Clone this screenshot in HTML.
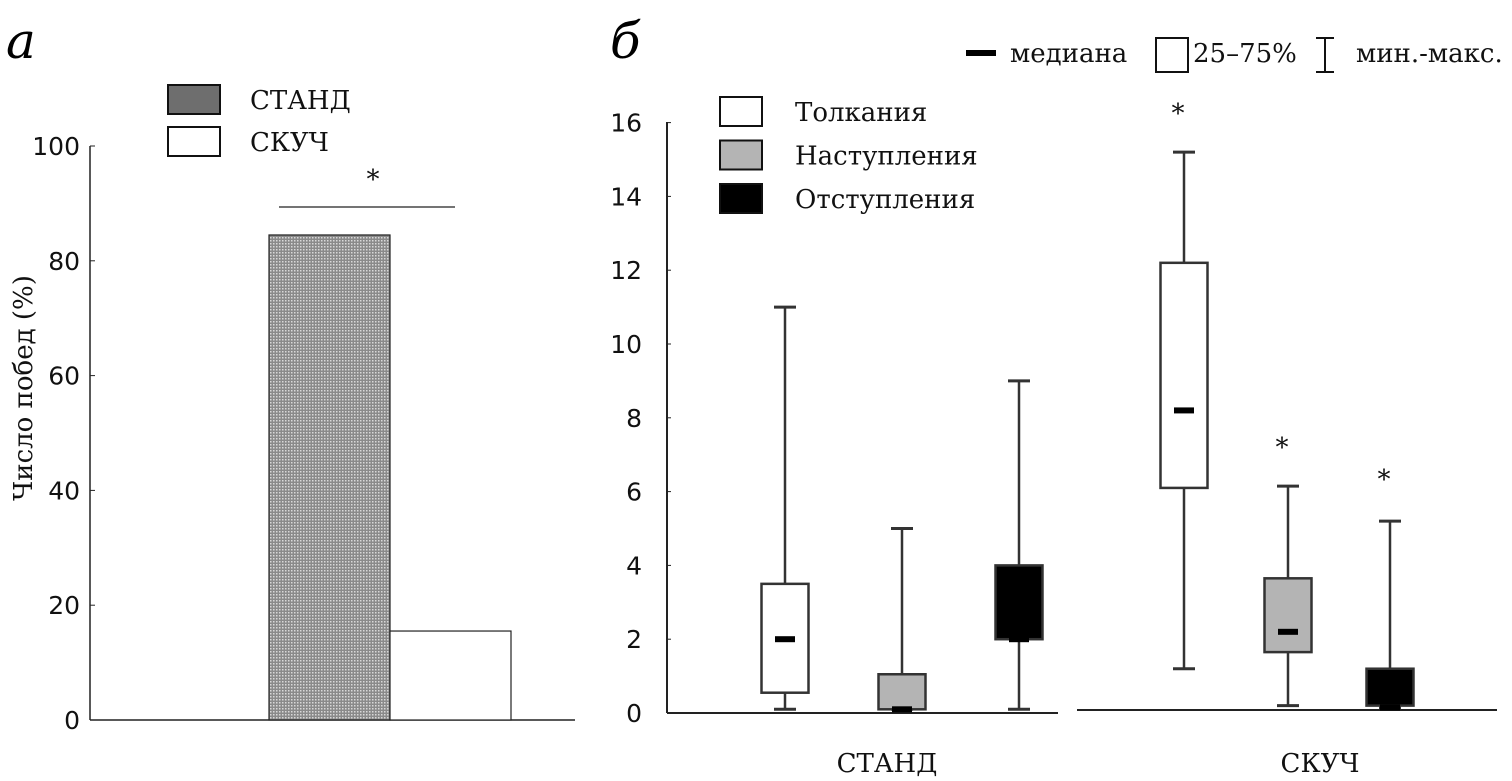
<!DOCTYPE html>
<html><head><meta charset="utf-8"><style>
body{margin:0;background:#fff}
svg{display:block}
.t{font-family:"DejaVu Sans","Liberation Sans",sans-serif;font-size:25px;fill:#111}
.s{font-family:"DejaVu Serif","Liberation Serif",serif;font-size:26px;fill:#111}
</style></head><body>
<svg id="c" width="1512" height="781" xmlns="http://www.w3.org/2000/svg">
<defs><pattern id="dots" width="3" height="3" patternUnits="userSpaceOnUse"><rect width="3" height="3" fill="#8a8a8a"/><rect width="1.5" height="1.5" fill="#d8d8d8"/></pattern></defs>
<text x="6" y="58" font-family="DejaVu Serif,serif" font-style="italic" font-size="50">а</text>
<text x="610" y="58" font-family="DejaVu Serif,serif" font-style="italic" font-size="50">б</text>
<g id="a"></g>
<g id="b"></g>
</svg>
<script>
const barCats=["СТАНД","СКУЧ"];
const barVals=[84.5,15.5];
const barTicks=[0,20,40,60,80,100];
const boxNames=["Толкания","Наступления","Отступления"];
const boxGroups=["СТАНД","СКУЧ"];
const boxMin=[0.1,0.1,0.1,1.2,0.2,0.15];
const boxQ1=[0.55,0.1,2,6.1,1.65,0.2];
const boxMed=[2,0.1,2,8.2,2.2,0.15];
const boxQ3=[3.5,1.05,4,12.2,3.65,1.2];
const boxMax=[11,5,9,15.2,6.15,5.2];
const boxTicks=[0,2,4,6,8,10,12,14,16];
const NS="http://www.w3.org/2000/svg";
function mk(p,tag,at,txt){const e=document.createElementNS(NS,tag);for(const k in at)e.setAttribute(k,at[k]);if(txt!==undefined)e.textContent=txt;p.appendChild(e);return e;}
// Panel a
const A=document.getElementById('a');
const ya=v=>720-v*5.74;
let e=mk(A,'line',{x1:90,y1:146,x2:90,y2:720,stroke:'#222','stroke-width':1.5});

e=mk(A,'line',{x1:90,y1:720,x2:575,y2:720,stroke:'#222','stroke-width':1.5});

barTicks.forEach(t=>{e=mk(A,'text',{x:80,y:ya(t)+9,'text-anchor':'end',class:'t'},t);

mk(A,'line',{x1:90,y1:ya(t),x2:95,y2:ya(t),stroke:'#222'});});
e=mk(A,'text',{x:0,y:0,class:'s',transform:'translate(32,388) rotate(-90)','text-anchor':'middle','font-size':'27'},'Число побед (%)');

const fills=['url(#dots)','#fff'];
barVals.forEach((v,i)=>{const x=269+i*121;e=mk(A,'rect',{x:x,y:ya(v),width:121,height:720-ya(v),fill:fills[i],stroke:'#222','stroke-width':1.2});
});
mk(A,'line',{x1:279,y1:207,x2:455,y2:207,stroke:'#222','stroke-width':1.2});
e=mk(A,'text',{x:373,y:188,'text-anchor':'middle',class:'s'},'*');

barCats.forEach((c,i)=>{const y=85+i*42;e=mk(A,'rect',{x:168,y:y,width:52,height:29,fill:i?'#fff':'#6e6e6e',stroke:'#111','stroke-width':2});

e=mk(A,'text',{x:250,y:y+24,class:'s'},c);});
// Panel b
const B=document.getElementById('b');
const yb=v=>713-v*36.9;
const cx=[785,902,1019,1184,1288,1390];
const bf=['#fff','#b4b4b4','#000'];
e=mk(B,'line',{x1:667,y1:122,x2:667,y2:713,stroke:'#222','stroke-width':2});

e=mk(B,'line',{x1:667,y1:713,x2:1058,y2:713,stroke:'#222','stroke-width':2});

e=mk(B,'line',{x1:1077,y1:710,x2:1497,y2:710,stroke:'#222','stroke-width':2});

boxTicks.forEach(t=>{e=mk(B,'text',{x:642,y:yb(t)+9,'text-anchor':'end',class:'t'},t);

mk(B,'line',{x1:667,y1:yb(t),x2:671,y2:yb(t),stroke:'#222'});});
cx.forEach((c,i)=>{const w=47,f=bf[i%3];
mk(B,'line',{x1:c,y1:yb(boxMax[i]),x2:c,y2:yb(boxMin[i]),stroke:'#333','stroke-width':2.5});
mk(B,'line',{x1:c-11,y1:yb(boxMax[i]),x2:c+11,y2:yb(boxMax[i]),stroke:'#333','stroke-width':3});
mk(B,'line',{x1:c-11,y1:yb(boxMin[i]),x2:c+11,y2:yb(boxMin[i]),stroke:'#333','stroke-width':3});
e=mk(B,'rect',{x:c-w/2,y:yb(boxQ3[i]),width:w,height:yb(boxQ1[i])-yb(boxQ3[i]),fill:f,stroke:'#333','stroke-width':2.5});

e=mk(B,'rect',{x:c-10,y:yb(boxMed[i])-3,width:20,height:6,fill:'#000'});
});
[[3,108],[4,442],[5,474]].forEach(s=>{e=mk(B,'text',{x:cx[s[0]]-6,y:s[1]+14,'text-anchor':'middle',class:'s'},'*');
});
boxGroups.forEach((g,i)=>{e=mk(B,'text',{x:[887,1320][i],y:772,'text-anchor':'middle',class:'s'},g);
});
boxNames.forEach((n,i)=>{const y=97+i*43.5;e=mk(B,'rect',{x:720,y:y,width:42,height:29,fill:bf[i],stroke:'#111','stroke-width':2});

e=mk(B,'text',{x:795,y:y+24,class:'s'},n);});
// top key
mk(B,'rect',{x:966,y:50,width:30,height:6,fill:'#000'});
e=mk(B,'text',{x:1010,y:62,class:'s','font-size':'25'},'медиана');
mk(B,'rect',{x:1156,y:38,width:32,height:34,fill:'#fff',stroke:'#111','stroke-width':2});
e=mk(B,'text',{x:1193,y:62,class:'s','font-size':'25'},'25–75%');
mk(B,'path',{d:'M1316 38H1334M1325 38V72M1316 72H1334',stroke:'#111','stroke-width':2,fill:'none'});
e=mk(B,'text',{x:1356,y:62,class:'s','font-size':'25'},'мин.-макс.');
</script>
</body></html>
